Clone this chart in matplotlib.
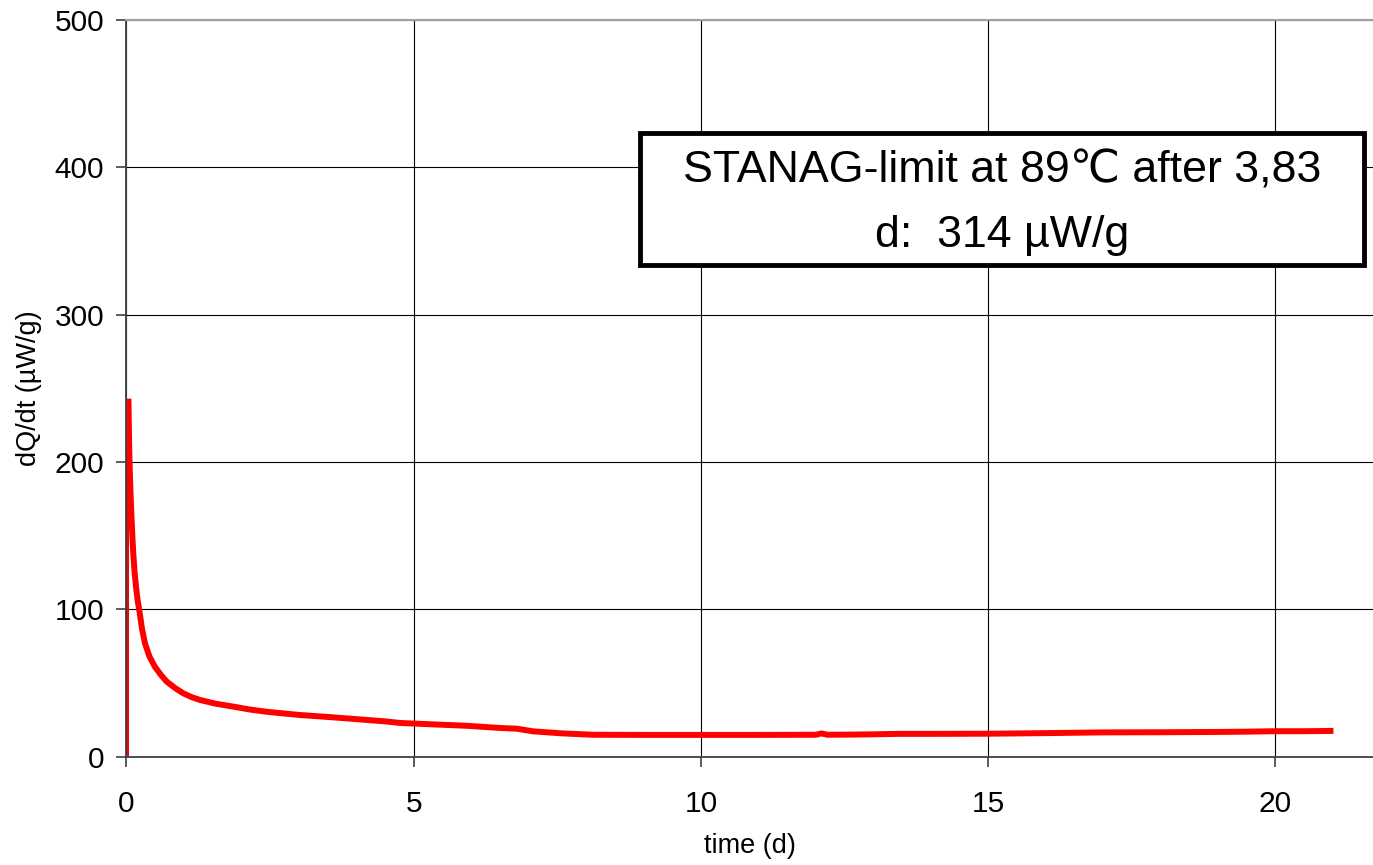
import matplotlib
matplotlib.use("Agg")
from matplotlib import pyplot as plt
from matplotlib.patches import Rectangle

plt.rcParams['font.family'] = ['Liberation Sans', 'DejaVu Sans']

# heat flow curve of the sample, time in days
t_start = [0.03, 0.03]
q_start = [0.0, 241.0]

t_days = [0.035, 0.05, 0.061, 0.075, 0.09, 0.105, 0.119, 0.14, 0.166, 0.195,
          0.223, 0.27, 0.322, 0.40, 0.496, 0.60, 0.70, 0.85, 0.99, 1.13,
          1.28, 1.55, 1.86, 2.15, 2.44, 2.7, 3.02, 3.5, 4.0, 4.5, 4.76, 5.3,
          5.92, 6.5, 6.8, 7.08, 7.6, 8.12, 9.0, 10.0, 11.0, 12.0, 12.1, 12.2,
          12.6, 13.0, 13.45, 14.0, 15.0, 16.0, 17.0, 18.0, 19.0, 19.5, 20.0,
          20.5, 20.96]
heat_flow = [241, 205, 190, 175, 160.7, 148, 138, 126, 115.4, 106,
             99.6, 87, 77, 68, 61, 55.5, 51, 46.5, 43, 40.5,
             38.5, 36, 34, 32, 30.5, 29.5, 28.3, 27, 25.5, 24.0, 22.9, 22,
             21, 19.5, 19.0, 17.2, 15.8, 14.9, 14.8, 14.8, 14.8, 14.9, 15.8, 14.9,
             15.0, 15.2, 15.5, 15.5, 15.6, 16.0, 16.5, 16.6, 16.8, 17.0, 17.3,
             17.3, 17.5]

x_ticks = [0, 5, 10, 15, 20]
y_ticks = [0, 100, 200, 300, 400, 500]

limit_text = "STANAG-limit at 89\u2103 after 3,83\nd:  314 \u00b5W/g"

fig = plt.figure(figsize=(13.73, 8.65), dpi=100)
ax = fig.add_axes([0.0921, 0.1252, 0.9079, 0.8517])

ax.plot(t_start, q_start, color='#ff0000', lw=1.5, solid_capstyle='butt')
ax.plot(t_days, heat_flow, color='#ff0000', lw=4.3, solid_joinstyle='round')

ax.set_xlim(0, 21.7)
ax.set_ylim(0, 500)
ax.set_xticks(x_ticks)
ax.set_yticks(y_ticks)
ax.grid(True, color='black', lw=0.8)
ax.set_axisbelow(True)

ax.spines['right'].set_visible(False)
ax.spines['top'].set_color('#a0a0a0')
ax.spines['top'].set_linewidth(1.5)
for side in ['left', 'bottom']:
    ax.spines[side].set_color('#404040')
    ax.spines[side].set_linewidth(1.3)

ax.tick_params(axis='both', direction='out', length=7, width=1.2,
               color='#404040', labelsize=21.5)
ax.tick_params(axis='x', pad=17)
ax.tick_params(axis='y', pad=9)

ax.set_xlabel("time (d)", fontsize=19.5, labelpad=11)
ax.set_ylabel("dQ/dt (\u00b5W/g)", fontsize=19.5, labelpad=9)

# text box with the STANAG limit
box = Rectangle((0.412, 0.6674), 0.581, 0.1792, transform=ax.transAxes,
                facecolor='white', edgecolor='black', lw=3.5, zorder=5)
ax.add_patch(box)
ax.text(0.7024, 0.7516, limit_text, transform=ax.transAxes, fontsize=32.2,
        ha='center', va='center', linespacing=1.72, zorder=6)

fig.savefig("out.png", dpi=100)
